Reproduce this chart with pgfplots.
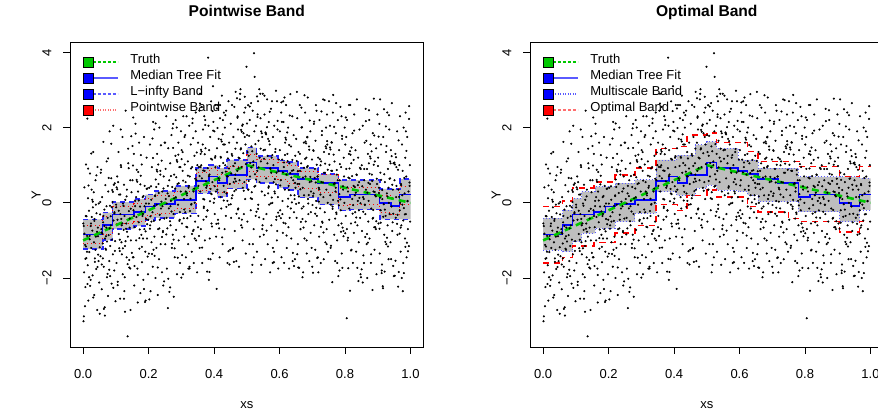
\documentclass[border=0pt]{standalone}
\usepackage{fontspec}
\setmainfont{Liberation Sans}
\usepackage{pgfplots}
\pgfplotsset{compat=1.18}
\usepgfplotslibrary{fillbetween}
\usepackage{pgfplotstable}

\definecolor{rgreen}{RGB}{0,200,0}
\definecolor{rgray}{RGB}{190,190,190}
\definecolor{lblue}{RGB}{90,90,255}
\definecolor{lred}{RGB}{255,110,110}

\pgfplotstableread{
x y
0.001 -3.15
0.002 -0.62
0.003 -1.85
0.004 0.41
0.006 -1.12
0.007 -2.24
0.008 -0.35
0.009 1.02
0.010 -1.47
0.012 -0.88
0.013 2.24
0.014 -1.66
0.015 0.12
0.016 -2.6
0.018 -0.21
0.019 -1.31
0.020 -0.97
0.021 0.78
0.023 -2.05
0.024 -0.55
0.025 -1.2
0.026 0.35
0.028 -0.74
0.029 -1.93
0.030 -0.12
0.031 1.35
0.033 -1.05
0.034 -2.45
0.035 -0.43
0.036 -1.57
0.038 0.6
0.039 -0.9
0.040 -1.76
0.041 -0.28
0.043 -2.85
0.044 0.95
0.045 -0.66
0.046 -1.38
0.048 -0.02
0.049 -2.12
0.051 -2.95
0.052 -0.31
0.053 -1.42
0.055 0.88
0.056 -0.79
0.057 -2.3
0.058 0.15
0.060 -1.08
0.061 -0.52
0.062 1.62
0.063 -1.7
0.065 -0.18
0.066 -2.78
0.067 -0.95
0.068 0.47
0.070 -1.25
0.071 -0.66
0.072 1.1
0.073 -1.98
0.075 -0.4
0.076 -2.48
0.077 0.3
0.078 -0.86
0.080 -1.55
0.081 1.9
0.082 -0.08
0.083 -1.15
0.085 -0.6
0.086 0.65
0.087 -2.15
0.088 -0.98
0.090 0.02
0.091 -1.37
0.092 2.05
0.093 -0.47
0.095 -1.8
0.096 -0.25
0.097 0.52
0.098 -1.02
0.099 -2.62
0.101 -0.12
0.102 -1.6
0.104 0.7
0.105 -0.45
0.106 -2.1
0.108 1.35
0.109 -0.83
0.110 0.22
0.112 -1.28
0.113 -2.55
0.114 -0.3
0.115 1.95
0.116 0.95
0.117 -1.05
0.118 -0.6
0.120 1.75
0.121 -1.9
0.122 -0.02
0.124 -0.72
0.125 0.48
0.126 -2.35
0.127 -1.98
0.128 -1.15
0.129 0.08
0.130 2.45
0.132 -0.55
0.133 -1.45
0.134 0.35
0.136 -3.55
0.137 -0.9
0.138 1.05
0.140 -0.22
0.141 -1.72
0.142 -0.66
0.144 0.6
0.145 -2.85
0.146 -1.0
0.148 0.28
0.149 -1.33
0.151 0.6
0.152 -1.45
0.153 2.27
0.154 -0.2
0.155 1.3
0.156 -2.2
0.158 -0.65
0.159 0.05
0.160 2.1
0.162 -1.0
0.163 -0.38
0.164 0.88
0.166 -1.75
0.167 -2.65
0.168 0.3
0.170 -0.52
0.171 1.6
0.172 -1.22
0.174 -0.1
0.175 -2.4
0.176 0.72
0.178 -0.85
0.179 1.02
0.180 -1.58
0.182 0.15
0.183 -0.3
0.184 -2.05
0.186 1.75
0.187 -0.7
0.188 0.45
0.190 -1.3
0.191 -2.6
0.192 -0.02
0.194 1.2
0.195 -0.95
0.196 0.38
0.198 -1.9
0.199 -0.45
0.201 -1.35
0.202 0.4
0.204 1.55
0.205 -0.6
0.206 -2.35
0.208 0.08
0.209 -1.05
0.210 0.95
0.212 -0.25
0.213 -1.7
0.214 2.15
0.216 -0.48
0.217 1.95
0.218 -0.9
0.220 0.2
0.221 -2.0
0.222 0.62
0.224 -1.2
0.225 -0.05
0.226 1.3
0.228 -2.45
0.229 -0.7
0.230 0.5
0.232 -1.5
0.233 2.0
0.234 -0.32
0.236 0.85
0.237 -1.1
0.238 -0.15
0.240 1.12
0.241 -1.85
0.242 0.3
0.244 -0.78
0.245 -2.2
0.246 0.7
0.248 -0.42
0.249 1.6
0.251 -1.1
0.252 0.9
0.254 2.3
0.255 -0.4
0.256 -1.75
0.258 0.25
0.259 -2.8
0.260 1.45
0.262 -0.15
0.263 0.6
0.266 -2.25
0.266 1.05
0.267 -0.6
0.268 0.05
0.270 1.8
0.271 -1.2
0.272 0.42
0.274 -0.85
0.275 2.1
0.276 -0.3
0.277 -2.5
0.278 0.75
0.280 -1.45
0.282 1.25
0.283 0.15
0.284 -0.72
0.286 2.0
0.287 -1.9
0.288 0.5
0.290 -0.05
0.291 1.6
0.292 -1.0
0.294 0.95
0.295 -0.45
0.296 -1.6
0.298 0.3
0.299 1.9
0.300 -1.99
0.301 1.4
0.302 -0.55
0.304 0.85
0.305 -1.9
0.306 2.3
0.308 0.1
0.309 -0.9
0.310 1.75
0.312 -0.25
0.313 0.55
0.314 -1.45
0.316 2.3
0.317 0.2
0.318 -0.65
0.320 1.1
0.321 -1.1
0.322 0.4
0.324 2.05
0.325 -1.75
0.326 0.7
0.328 -0.35
0.329 1.55
0.330 -0.05
0.332 -1.3
0.333 0.95
0.334 2.12
0.336 -0.75
0.337 0.3
0.338 -1.6
0.340 1.25
0.341 0.0
0.342 -0.5
0.344 1.9
0.345 -1.0
0.346 0.6
0.348 -1.85
0.349 1.0
0.351 1.6
0.352 -0.35
0.354 0.95
0.355 2.45
0.356 -1.2
0.357 2.9
0.358 0.3
0.359 1.3
0.360 -0.7
0.361 1.0
0.362 2.55
0.363 0.65
0.364 -1.6
0.366 1.95
0.367 0.1
0.368 -0.45
0.369 -0.1
0.370 2.3
0.371 0.85
0.372 -1.0
0.373 2.2
0.374 1.45
0.376 0.4
0.379 -1.83
0.380 -0.2
0.382 3.86
0.383 2.05
0.384 -2.05
0.385 1.4
0.386 0.75
0.387 -0.95
0.388 1.75
0.389 -1.5
0.390 0.25
0.391 2.7
0.392 -0.55
0.394 1.15
0.395 0.55
0.396 -1.35
0.397 3.1
0.398 2.15
0.399 0.0
0.401 1.9
0.402 -0.3
0.403 1.2
0.404 0.95
0.405 2.6
0.406 -0.9
0.408 -2.29
0.409 1.45
0.410 0.35
0.412 2.6
0.413 -0.55
0.414 1.7
0.416 0.6
0.417 -1.45
0.418 2.25
0.420 0.15
0.421 1.2
0.422 -0.15
0.424 2.85
0.425 0.8
0.426 -1.1
0.427 2.2
0.428 1.55
0.429 0.45
0.430 2.4
0.432 -0.7
0.433 2.0
0.434 1.0
0.436 -0.35
0.437 2.45
0.438 0.25
0.440 1.35
0.441 -1.6
0.442 0.7
0.444 2.7
0.445 -0.05
0.446 1.6
0.448 0.5
0.449 -1.25
0.451 2.1
0.452 -0.4
0.454 1.3
0.455 2.6
0.456 0.2
0.458 -1.2
0.459 1.75
0.460 0.55
0.462 2.55
0.463 -0.75
0.464 1.05
0.465 0.75
0.466 2.95
0.467 0.35
0.468 -1.55
0.470 1.6
0.471 0.85
0.472 2.3
0.473 1.95
0.474 -0.15
0.475 1.2
0.476 -1.7
0.478 0.6
0.479 2.75
0.481 3.02
0.482 1.45
0.483 -0.6
0.484 0.95
0.485 -0.45
0.486 2.05
0.487 -1.0
0.488 0.4
0.490 1.85
0.491 -0.3
0.492 2.4
0.494 2.82
0.495 0.1
0.496 1.55
0.497 -1.35
0.499 3.62
0.501 1.8
0.502 -0.5
0.504 2.6
0.505 0.35
0.506 1.25
0.508 -1.1
0.509 2.2
0.510 0.7
0.512 -0.2
0.513 2.65
0.514 1.5
0.515 -1.85
0.516 0.1
0.517 -1.65
0.518 2.45
0.520 1.0
0.521 -0.7
0.522 3.98
0.523 1.9
0.524 3.35
0.526 0.45
0.527 -0.35
0.528 2.05
0.530 1.3
0.531 -1.3
0.532 0.85
0.533 2.35
0.534 2.7
0.535 -0.05
0.536 1.65
0.538 3.02
0.539 0.55
0.540 -0.9
0.542 2.25
0.543 1.1
0.544 -1.65
0.546 0.3
0.547 1.75
0.548 -0.6
0.549 2.9
0.551 1.4
0.552 -0.85
0.554 2.35
0.555 0.2
0.556 -1.5
0.558 1.85
0.559 0.65
0.560 -0.3
0.562 2.75
0.563 1.05
0.564 -1.1
0.565 1.7
0.566 0.4
0.567 2.15
0.568 -0.05
0.570 1.55
0.571 -1.85
0.572 0.9
0.574 2.5
0.575 -0.6
0.576 1.2
0.577 2.7
0.578 0.0
0.579 -1.6
0.580 1.75
0.582 0.55
0.583 -1.3
0.584 2.05
0.586 0.25
0.587 1.35
0.589 2.98
0.590 -0.45
0.591 0.8
0.592 -1.0
0.593 -0.75
0.594 1.95
0.595 0.15
0.596 -1.75
0.598 1.15
0.599 -0.35
0.601 1.9
0.602 -0.2
0.604 0.6
0.605 2.4
0.606 -1.45
0.608 1.15
0.609 0.05
0.610 -0.8
0.611 2.7
0.612 2.15
0.613 0.95
0.614 -1.6
0.616 0.35
0.617 1.6
0.618 -0.55
0.620 2.6
0.621 0.75
0.622 -1.2
0.624 1.3
0.625 -0.1
0.626 2.0
0.627 -0.65
0.628 0.45
0.629 -1.75
0.630 1.05
0.631 -0.4
0.633 2.89
0.634 0.2
0.635 1.5
0.636 -0.95
0.638 0.85
0.639 2.3
0.640 -1.55
0.642 0.6
0.643 1.8
0.644 -0.25
0.646 0.1
0.647 -1.5
0.648 1.25
0.649 0.4
0.651 1.7
0.652 -0.4
0.653 2.95
0.654 2.25
0.655 0.5
0.656 -1.1
0.658 1.35
0.659 0.0
0.660 -1.73
0.662 2.6
0.663 0.85
0.664 -0.7
0.666 1.05
0.667 2.0
0.668 -0.15
0.670 -1.98
0.671 0.4
0.672 -1.85
0.673 -0.1
0.674 1.6
0.675 0.2
0.676 -0.95
0.678 2.4
0.679 0.7
0.680 -0.5
0.682 1.2
0.683 -1.35
0.684 0.95
0.685 1.75
0.686 2.8
0.687 0.1
0.688 -0.3
0.690 1.5
0.691 -1.55
0.692 0.55
0.694 1.9
0.695 -0.8
0.696 0.3
0.698 -1.2
0.699 1.15
0.700 -1.7
0.702 -1.86
0.703 1.4
0.704 0.25
0.705 2.1
0.706 -0.6
0.708 0.9
0.709 -1.25
0.710 1.65
0.711 2.6
0.712 0.05
0.713 2.45
0.714 -0.35
0.716 0.7
0.717 -1.45
0.718 1.2
0.720 0.4
0.721 -0.9
0.722 2.2
0.724 -0.15
0.725 1.0
0.726 -1.6
0.727 1.1
0.728 0.55
0.729 1.8
0.730 -0.5
0.733 2.75
0.734 0.15
0.735 -1.5
0.736 1.35
0.738 -0.25
0.739 0.8
0.740 -1.05
0.742 2.0
0.743 0.35
0.744 -0.7
0.745 2.35
0.746 1.55
0.747 0.0
0.748 -1.3
0.751 1.3
0.752 -0.45
0.754 2.05
0.755 0.2
0.756 -1.2
0.757 -0.05
0.758 0.85
0.761 -2.11
0.760 1.6
0.762 -0.1
0.763 2.4
0.764 2.87
0.766 0.5
0.767 -0.85
0.768 1.1
0.770 -1.55
0.771 0.3
0.772 1.85
0.773 2.65
0.774 -0.3
0.775 0.75
0.776 -1.0
0.778 2.2
0.779 0.05
0.780 -0.6
0.782 1.4
0.783 -1.8
0.784 0.6
0.786 2.55
0.787 -0.2
0.788 0.95
0.789 -0.55
0.790 -1.35
0.791 1.7
0.792 -1.73
0.794 0.35
0.795 -0.75
0.796 1.2
0.798 0.0
0.799 2.0
0.801 1.55
0.802 -0.35
0.804 0.9
0.805 -3.07
0.806 2.2
0.808 -1.0
0.809 0.3
0.810 -1.74
0.812 1.3
0.813 -0.15
0.814 0.65
0.815 -2.34
0.816 2.6
0.818 -0.55
0.819 1.05
0.820 -1.25
0.822 0.1
0.823 1.85
0.824 -1.6
0.826 0.45
0.827 -0.8
0.828 2.35
0.830 0.2
0.831 -0.25
0.832 1.4
0.834 -1.3
0.835 0.75
0.836 2.75
0.838 -0.6
0.839 0.05
0.840 1.2
0.842 -1.05
0.843 0.55
0.844 1.95
0.846 -0.4
0.847 -1.9
0.848 0.9
0.849 -1.98
0.851 1.0
0.852 -0.75
0.854 2.05
0.855 0.15
0.856 -1.4
0.858 -1.6
0.859 0.6
0.860 1.6
0.861 -0.05
0.862 -0.3
0.863 2.5
0.864 0.35
0.866 -1.1
0.867 0.9
0.868 -2.0
0.870 1.3
0.871 -0.5
0.872 0.05
0.873 1.05
0.874 2.2
0.875 -0.95
0.876 0.5
0.878 1.55
0.879 -1.6
0.880 -0.15
0.882 0.75
0.884 -2.32
0.885 1.85
0.886 -0.4
0.887 0.3
0.888 2.77
0.889 -0.65
0.890 -1.25
0.891 1.1
0.892 0.2
0.894 -0.7
0.895 1.45
0.896 -1.9
0.898 0.5
0.899 2.35
0.901 1.2
0.902 -0.55
0.904 0.4
0.905 2.1
0.906 -1.35
0.907 2.75
0.908 0.8
0.909 -0.2
0.910 1.55
0.912 -1.8
0.913 -1.64
0.914 0.1
0.916 -2.27
0.917 1.75
0.919 2.49
0.920 -0.85
0.921 -1.83
0.922 0.55
0.924 -0.35
0.925 1.35
0.926 -1.1
0.928 0.25
0.929 2.4
0.930 -0.6
0.931 0.9
0.933 -1.5
0.934 0.0
0.935 1.95
0.936 -0.3
0.938 0.65
0.939 -1.05
0.940 1.4
0.942 -0.1
0.943 2.65
0.944 -0.75
0.946 0.35
0.947 -1.68
0.948 1.05
0.949 -1.95
0.951 0.6
0.952 -1.94
0.954 1.3
0.955 -0.4
0.956 0.15
0.957 0.95
0.959 1.9
0.960 -0.85
0.962 -2.23
0.963 0.35
0.964 -1.84
0.966 1.0
0.967 -0.2
0.968 2.3
0.970 -1.3
0.971 0.5
0.972 -0.6
0.974 1.55
0.975 -0.05
0.976 0.85
0.978 -1.6
0.979 2.0
0.980 -1.87
0.982 0.25
0.983 -0.95
0.984 1.2
0.985 2.4
0.986 -0.3
0.987 0.7
0.988 -1.45
0.990 1.75
0.991 0.05
0.992 -0.7
0.995 -1.15
0.996 2.57
0.997 0.45
0.998 1.0
0.999 -0.5
0.0008 -0.55
0.0024 -3.02
0.0040 -0.82
0.0056 -2.75
0.0072 -1.49
0.0088 -1.16
0.0104 -0.36
0.0120 -1.30
0.0136 -2.16
0.0152 0.91
0.0168 0.46
0.0184 -1.98
0.0200 -0.88
0.0216 -2.21
0.0232 -0.62
0.0248 1.31
0.0264 -0.38
0.0280 0.08
0.0296 0.03
0.0312 -2.52
0.0328 0.28
0.0344 -0.48
0.0360 -1.48
0.0376 -1.25
0.0392 -0.05
0.0408 0.73
0.0424 -0.77
0.0440 -1.71
0.0456 -0.89
0.0472 -1.55
0.0508 -1.18
0.0524 0.02
0.0540 0.80
0.0556 -0.70
0.0572 -1.64
0.0588 -0.82
0.0604 -1.48
0.0620 -0.35
0.0636 -2.82
0.0652 -0.62
0.0668 -3.0
0.0684 -1.22
0.0700 -0.89
0.0716 -0.09
0.0732 -1.03
0.0748 -1.89
0.0764 1.18
0.0780 0.66
0.0796 -1.78
0.0812 -0.68
0.0828 -1.95
0.0844 -0.36
0.0860 1.57
0.0876 -0.12
0.0892 0.34
0.0908 0.29
0.0924 -2.26
0.0940 0.48
0.0956 -0.28
0.0972 -1.28
0.1008 -0.05
0.1024 0.41
0.1040 0.36
0.1056 -2.19
0.1072 0.55
0.1088 -0.21
0.1104 -1.21
0.1120 -0.98
0.1136 0.22
0.1152 1.00
0.1168 -0.43
0.1184 -1.37
0.1200 -0.55
0.1216 -1.21
0.1232 -0.08
0.1248 -2.55
0.1264 -0.35
0.1280 -2.90
0.1296 -1.02
0.1312 -0.69
0.1328 0.17
0.1344 -0.77
0.1360 -1.63
0.1376 1.44
0.1392 0.92
0.1408 -1.52
0.1424 -0.42
0.1440 -1.75
0.1456 -0.16
0.1472 1.77
0.1508 1.51
0.1524 0.99
0.1540 -1.45
0.1556 -0.35
0.1572 -1.68
0.1588 -0.09
0.1604 1.84
0.1620 0.15
0.1636 0.61
0.1652 0.56
0.1668 -1.92
0.1684 0.82
0.1700 0.06
0.1716 -0.94
0.1732 -0.71
0.1748 0.49
0.1764 1.27
0.1780 -0.23
0.1796 -1.17
0.1812 -0.35
0.1828 -0.95
0.1844 0.18
0.1860 -2.29
0.1876 -0.09
0.1892 -2.64
0.1908 -0.76
0.1924 -0.43
0.1940 0.37
0.1956 -0.57
0.1972 -1.43
0.2008 -0.02
0.2024 -2.57
0.2040 -0.69
0.2056 -0.36
0.2072 0.44
0.2088 -0.50
0.2104 -1.36
0.2120 1.71
0.2136 1.19
0.2152 -1.25
0.2168 -0.08
0.2184 -1.41
0.2200 0.18
0.2216 2.11
0.2232 0.42
0.2248 0.88
0.2264 0.83
0.2280 -1.72
0.2296 1.02
0.2312 0.26
0.2328 -0.68
0.2344 -0.45
0.2360 0.75
0.2376 1.53
0.2392 0.03
0.2408 -0.91
0.2424 -0.09
0.2440 -0.75
0.2456 0.38
0.2472 -2.09
0.2508 1.60
0.2524 0.10
0.2540 -0.84
0.2556 -0.02
0.2572 -0.68
0.2588 0.45
0.2604 -2.02
0.2620 0.18
0.2636 -2.37
0.2652 -0.49
0.2668 -0.09
0.2684 0.71
0.2700 -0.23
0.2716 -1.09
0.2732 1.98
0.2748 1.46
0.2764 -0.98
0.2780 0.12
0.2796 -1.21
0.2812 0.38
0.2828 2.2
0.2844 0.68
0.2860 1.14
0.2876 1.09
0.2892 -1.46
0.2908 1.28
0.2924 0.52
0.2940 -0.48
0.2956 -0.25
0.2972 0.95
0.3008 1.16
0.3024 -1.39
0.3040 1.35
0.3056 0.59
0.3072 -0.41
0.3088 -0.18
0.3104 1.02
0.3120 1.80
0.3136 0.30
0.3152 -0.64
0.3168 0.25
0.3184 -0.41
0.3200 0.72
0.3216 -1.75
0.3232 0.45
0.3248 -1.7
0.3264 -0.22
0.3280 0.11
0.3296 0.91
0.3312 -0.03
0.3328 -0.83
0.3344 2.24
0.3360 1.72
0.3376 -0.72
0.3392 0.38
0.3408 -0.95
0.3424 0.64
0.3440 2.4
0.3456 0.88
0.3472 1.34
0.3508 -0.65
0.3524 0.45
0.3540 -0.88
0.3556 0.71
0.3572 2.64
0.3588 0.95
0.3604 1.41
0.3620 1.36
0.3636 -1.19
0.3652 1.55
0.3668 0.86
0.3684 -0.14
0.3700 0.09
0.3716 1.29
0.3732 2.07
0.3748 0.57
0.3764 -0.37
0.3780 0.45
0.3796 -0.21
0.3812 0.92
0.3828 -1.49
0.3844 0.71
0.3860 -1.84
0.3876 0.04
0.3892 0.37
0.3908 1.17
0.3924 0.23
0.3940 -0.63
0.3956 2.44
0.3972 1.92
0.4008 0.11
0.4024 0.44
0.4040 1.24
0.4056 0.30
0.4072 -0.56
0.4088 2.51
0.4104 1.99
0.4120 -0.45
0.4136 0.65
0.4152 -0.68
0.4168 0.98
0.4184 2.6
0.4200 1.22
0.4216 1.68
0.4232 1.63
0.4248 -0.92
0.4264 1.82
0.4280 1.06
0.4296 0.06
0.4312 0.29
0.4328 1.55
0.4344 2.33
0.4360 0.83
0.4376 -0.11
0.4392 0.71
0.4408 0.05
0.4424 1.18
0.4440 -1.29
0.4456 0.91
0.4472 -1.64
0.4508 -0.04
0.4524 0.78
0.4540 0.12
0.4556 1.25
0.4572 -1.22
0.4588 0.98
0.4604 -1.57
0.4620 0.31
0.4636 0.64
0.4652 1.44
0.4668 0.57
0.4684 -0.29
0.4700 2.78
0.4716 2.26
0.4732 -0.18
0.4748 0.92
0.4764 -0.41
0.4780 1.18
0.4796 2.9
0.4812 1.42
0.4828 1.94
0.4844 1.89
0.4860 -0.66
0.4876 2.08
0.4892 1.32
0.4908 0.32
0.4924 0.55
0.4940 1.75
0.4956 2.53
0.4972 1.03
0.5008 2.11
0.5024 1.35
0.5040 0.35
0.5056 0.58
0.5072 1.78
0.5088 2.56
0.5104 1.06
0.5120 0.12
0.5136 0.94
0.5152 0.28
0.5168 1.37
0.5184 -1.10
0.5200 1.10
0.5216 -1.45
0.5232 0.43
0.5248 0.76
0.5264 1.56
0.5280 0.62
0.5296 -0.24
0.5312 2.83
0.5328 2.28
0.5344 -0.16
0.5360 0.94
0.5376 -0.39
0.5392 1.20
0.5408 2.9
0.5424 1.44
0.5440 1.90
0.5456 1.85
0.5472 -0.70
0.5508 -0.43
0.5524 1.17
0.5540 2.85
0.5556 1.41
0.5572 1.87
0.5588 1.82
0.5604 -0.74
0.5620 2.01
0.5636 1.25
0.5652 0.25
0.5668 0.44
0.5684 1.64
0.5700 2.42
0.5716 0.92
0.5732 -0.02
0.5748 0.80
0.5764 0.14
0.5780 1.27
0.5796 -1.20
0.5812 1.00
0.5828 -1.58
0.5844 0.30
0.5860 0.63
0.5876 1.43
0.5892 0.49
0.5908 -0.37
0.5924 2.70
0.5940 2.18
0.5956 -0.26
0.5972 0.84
0.6008 1.40
0.6024 0.46
0.6040 -0.41
0.6056 2.67
0.6072 2.15
0.6088 -0.30
0.6104 0.81
0.6120 -0.53
0.6136 1.07
0.6152 2.8
0.6168 1.27
0.6184 1.73
0.6200 1.68
0.6216 -0.87
0.6232 1.87
0.6248 1.11
0.6264 0.11
0.6280 0.34
0.6296 1.54
0.6312 2.32
0.6328 0.79
0.6344 -0.15
0.6360 0.67
0.6376 0.01
0.6392 1.14
0.6408 -1.33
0.6424 0.87
0.6440 -1.68
0.6456 0.20
0.6472 0.53
0.6508 -0.03
0.6524 1.11
0.6540 -1.37
0.6556 0.84
0.6572 -1.72
0.6588 0.17
0.6604 0.50
0.6620 1.30
0.6636 0.36
0.6652 -0.51
0.6668 2.53
0.6684 2.01
0.6700 -0.43
0.6716 0.67
0.6732 -0.66
0.6748 0.93
0.6764 2.86
0.6780 1.17
0.6796 1.63
0.6812 1.58
0.6828 -1.00
0.6844 1.74
0.6860 0.98
0.6876 -0.02
0.6892 0.21
0.6908 1.41
0.6924 2.19
0.6940 0.69
0.6956 -0.25
0.6972 0.57
0.7008 -0.06
0.7024 0.18
0.7040 1.38
0.7056 2.16
0.7072 0.66
0.7088 -0.29
0.7104 0.54
0.7120 -0.13
0.7136 1.01
0.7152 -1.47
0.7168 0.70
0.7184 -1.85
0.7200 0.03
0.7216 0.36
0.7232 1.16
0.7248 0.22
0.7264 -0.64
0.7280 2.43
0.7296 1.91
0.7312 -0.53
0.7328 0.54
0.7344 -0.79
0.7360 0.80
0.7376 2.73
0.7392 1.04
0.7408 1.50
0.7424 1.45
0.7440 -1.10
0.7456 1.64
0.7472 0.88
0.7508 2.70
0.7524 1.01
0.7540 1.47
0.7556 1.42
0.7572 -1.14
0.7588 1.61
0.7604 0.85
0.7620 -0.16
0.7636 0.08
0.7652 1.28
0.7668 2.02
0.7684 0.52
0.7700 -0.42
0.7716 0.40
0.7732 -0.26
0.7748 0.87
0.7764 -1.60
0.7780 0.60
0.7796 -1.95
0.7812 -0.07
0.7828 0.23
0.7844 1.03
0.7860 0.09
0.7876 -0.77
0.7892 2.30
0.7908 1.78
0.7924 -0.66
0.7940 0.44
0.7956 -0.89
0.7972 0.70
0.8008 -0.81
0.8024 2.27
0.8040 1.75
0.8056 -0.70
0.8072 0.41
0.8088 -0.93
0.8104 0.67
0.8120 2.60
0.8136 0.91
0.8152 1.37
0.8168 1.28
0.8184 -1.27
0.8200 1.47
0.8216 0.71
0.8232 -0.29
0.8248 -0.06
0.8264 1.14
0.8280 1.92
0.8296 0.42
0.8312 -0.52
0.8328 0.27
0.8344 -0.39
0.8360 0.74
0.8376 -1.73
0.8392 0.47
0.8408 -2.08
0.8424 -0.20
0.8440 0.13
0.8456 0.93
0.8472 -0.01
0.8508 -1.77
0.8524 0.44
0.8540 -2.12
0.8556 -0.24
0.8572 0.10
0.8588 0.90
0.8604 -0.05
0.8620 -0.91
0.8636 2.17
0.8652 1.65
0.8668 -0.83
0.8684 0.27
0.8700 -1.06
0.8716 0.53
0.8732 2.46
0.8748 0.77
0.8764 1.23
0.8780 1.18
0.8796 -1.37
0.8812 1.37
0.8828 0.58
0.8844 -0.42
0.8860 -0.19
0.8876 1.01
0.8892 1.79
0.8908 0.29
0.8924 -0.65
0.8940 0.17
0.8956 -0.49
0.8972 0.64
0.9008 0.98
0.9024 1.76
0.9040 0.26
0.9056 -0.69
0.9072 0.14
0.9088 -0.53
0.9104 0.61
0.9120 -1.87
0.9136 0.34
0.9152 -2.22
0.9168 -0.37
0.9184 -0.04
0.9200 0.76
0.9216 -0.18
0.9232 -1.04
0.9248 2.03
0.9264 1.51
0.9280 -0.93
0.9296 0.17
0.9312 -1.16
0.9328 0.40
0.9344 2.33
0.9360 0.64
0.9376 1.10
0.9392 1.05
0.9408 -1.50
0.9424 1.24
0.9440 0.48
0.9456 -0.52
0.9472 -0.29
0.9508 1.07
0.9524 1.02
0.9540 -1.54
0.9556 1.21
0.9572 0.45
0.9588 -0.56
0.9604 -0.32
0.9620 0.88
0.9636 1.66
0.9652 0.16
0.9668 -0.82
0.9684 0.00
0.9700 -0.66
0.9716 0.47
0.9732 -2.00
0.9748 0.20
0.9764 -2.35
0.9780 -0.47
0.9796 -0.14
0.9812 0.66
0.9828 -0.31
0.9844 -1.17
0.9860 1.90
0.9876 1.38
0.9892 -1.06
0.9908 0.04
0.9924 -1.29
0.9940 0.30
0.9956 2.23
0.9972 0.54
}\pts

\pgfplotstableread{
x med up lo pu pl
0.000 -0.84 -0.44 -1.23 -0.60 -1.08
0.060 -0.59 -0.26 -0.99 -0.36 -0.84
0.090 -0.31 0.02 -0.70 -0.09 -0.56
0.155 -0.25 0.10 -0.62 -0.02 -0.50
0.190 -0.10 0.22 -0.45 0.12 -0.34
0.220 -0.03 0.32 -0.40 0.20 -0.28
0.280 0.08 0.45 -0.28 0.30 -0.16
0.345 0.58 0.93 0.25 0.80 0.34
0.385 0.70 1.00 0.30 0.90 0.46
0.410 0.52 0.92 0.16 0.76 0.28
0.440 0.74 1.14 0.38 0.96 0.50
0.500 1.07 1.47 0.62 1.28 0.84
0.530 0.93 1.25 0.52 1.14 0.70
0.595 0.85 1.12 0.40 1.06 0.62
0.625 0.76 1.08 0.34 0.98 0.52
0.657 0.63 0.92 0.14 0.84 0.38
0.718 0.53 0.76 -0.05 0.74 0.28
0.780 0.16 0.60 -0.20 0.38 -0.08
0.815 0.22 0.60 -0.18 0.42 -0.04
0.906 -0.01 0.37 -0.44 0.20 -0.26
0.940 -0.08 0.37 -0.44 0.14 -0.32
0.967 0.22 0.63 -0.44 0.44 -0.04
1.000 0.22 0.63 -0.44 0.44 -0.04
}\leftband

\pgfplotstableread{
x med up lo ou ol
0.000 -0.84 -0.41 -1.26 -0.10 -1.60
0.060 -0.59 -0.19 -1.30 0.05 -1.45
0.090 -0.31 0.12 -1.03 0.40 -1.15
0.118 -0.31 0.30 -0.81 0.40 -1.15
0.155 -0.25 0.30 -0.81 0.55 -1.05
0.159 -0.25 0.43 -0.68 0.55 -1.05
0.190 -0.10 0.43 -0.68 0.55 -1.05
0.220 -0.03 0.52 -0.50 0.74 -0.80
0.280 0.08 0.61 -0.28 0.93 -0.60
0.345 0.58 1.14 0.30 1.45 -0.05
0.385 0.70 1.14 0.30 1.45 -0.05
0.408 0.70 1.27 0.20 1.45 -0.05
0.410 0.52 1.27 0.20 1.50 -0.20
0.440 0.74 1.27 0.20 1.80 0.20
0.464 0.74 1.54 0.39 1.80 0.20
0.500 1.07 1.63 0.47 1.85 0.34
0.530 0.93 1.45 0.34 1.60 0.16
0.595 0.85 1.14 0.30 1.60 0.16
0.625 0.76 1.14 0.21 1.36 -0.10
0.657 0.63 0.92 0.03 1.10 -0.24
0.718 0.53 0.92 0.03 1.10 -0.24
0.750 0.53 0.92 0.03 1.10 -0.42
0.780 0.16 0.69 -0.24 1.10 -0.42
0.785 0.16 0.69 -0.24 0.96 -0.50
0.815 0.22 0.69 -0.24 0.96 -0.50
0.906 -0.01 0.69 -0.50 0.70 -0.77
0.940 -0.08 0.69 -0.50 0.70 -0.77
0.967 0.22 0.65 -0.19 0.96 -0.50
1.000 0.22 0.65 -0.19 0.96 -0.50
}\rightband

\pgfplotsset{
  rstyle/.style={
    scale only axis, width=353.6pt, height=304.3pt,
    xmin=-0.04, xmax=1.04, ymin=-3.835, ymax=4.258,
    axis line style={line width=0.8pt, black},
    tick align=outside, major tick length=7pt,
    xtick pos=bottom, ytick pos=left,
    tick style={line width=0.8pt, black},
    xtick={0,0.2,0.4,0.6,0.8,1},
    xticklabels={0.0,0.2,0.4,0.6,0.8,1.0},
    ytick={-2,0,2,4}, yticklabels={−2,0,2,4},
    ticklabel style={font=\fontsize{13}{15}\selectfont},
    xticklabel style={yshift=-11.5pt},
    yticklabel style={xshift=-8pt, rotate=90, anchor=south},
    xlabel={xs}, ylabel={Y},
    label style={font=\fontsize{13}{15}\selectfont},
    xlabel style={at={(axis description cs:0.5,-0.2005)}, anchor=base},
    ylabel style={at={(axis description cs:-0.0833,0.5)}, anchor=base},
    title style={font=\bfseries\fontsize{15.6}{18}\selectfont, at={(axis description cs:0.5,1.065)}, anchor=base},
    legend cell align=left,
    legend style={draw=none, fill=none, at={(axis description cs:0,1)}, anchor=north west,
      xshift=12.3pt, yshift=-11pt, inner sep=0pt, row sep=0pt, column sep=12pt,
      font=\fontsize{13}{15}\selectfont,
      nodes={inner sep=0pt, text height=10pt, text depth=6pt}},
  },
  pts/.style={only marks, mark=*, mark size=0.85pt, black, forget plot},
}

\begin{document}
\begin{tikzpicture}
\begin{axis}[rstyle, at={(70pt,68pt)}, anchor=south west, title={Pointwise Band}]
  \addplot[pts] table[x=x, y=y] {\pts};
  \addplot[const plot, draw=none, name path=LU, forget plot] table[x=x, y=up] {\leftband};
  \addplot[const plot, draw=none, name path=LL, forget plot] table[x=x, y=lo] {\leftband};
  \addplot[rgray, forget plot] fill between[of=LU and LL];
  \addplot[const plot, blue!85, line width=1.6pt, dash pattern=on 5pt off 4pt, forget plot] table[x=x, y=up] {\leftband};
  \addplot[const plot, blue!85, line width=1.6pt, dash pattern=on 5pt off 4pt, forget plot] table[x=x, y=lo] {\leftband};
  \addplot[const plot, red, line width=1pt, dash pattern=on 1pt off 3pt, forget plot] table[x=x, y=pu] {\leftband};
  \addplot[const plot, red, line width=1pt, dash pattern=on 1pt off 3pt, forget plot] table[x=x, y=pl] {\leftband};
  \addplot[const plot, blue, line width=1.5pt, forget plot] table[x=x, y=med] {\leftband};
  \addplot[rgreen, line width=2.6pt, dash pattern=on 7pt off 5pt, forget plot] coordinates {(0,-1) (0.5,1) (1,0)};
  \addlegendimage{legend image code/.code={
    \draw[rgreen, line width=1.3pt, dash pattern=on 3pt off 2pt] (5pt,0pt) -- (30pt,0pt);
    \draw[black, line width=0.5pt, fill=rgreen] (-5pt,-5pt) rectangle (5pt,5pt);}}
  \addlegendentry{Truth}
  \addlegendimage{legend image code/.code={
    \draw[lblue, line width=1.3pt] (5pt,0pt) -- (30pt,0pt);
    \draw[black, line width=0.5pt, fill=blue] (-5pt,-5pt) rectangle (5pt,5pt);}}
  \addlegendentry{Median Tree Fit}
  \addlegendimage{legend image code/.code={
    \draw[lblue, line width=1.3pt, dash pattern=on 3pt off 2pt] (5pt,0pt) -- (30pt,0pt);
    \draw[black, line width=0.5pt, fill=blue] (-5pt,-5pt) rectangle (5pt,5pt);}}
  \addlegendentry{L−infty Band}
  \addlegendimage{legend image code/.code={
    \draw[lred, line width=1.3pt, dash pattern=on 1pt off 1.5pt] (5pt,0pt) -- (30pt,0pt);
    \draw[black, line width=0.5pt, fill=red] (-5pt,-5pt) rectangle (5pt,5pt);}}
  \addlegendentry{Pointwise Band}
\end{axis}
\begin{axis}[rstyle, at={(530pt,68pt)}, anchor=south west, title={Optimal Band}]
  \addplot[pts] table[x=x, y=y] {\pts};
  \addplot[const plot, draw=none, name path=RU, forget plot] table[x=x, y=up] {\rightband};
  \addplot[const plot, draw=none, name path=RL, forget plot] table[x=x, y=lo] {\rightband};
  \addplot[rgray, forget plot] fill between[of=RU and RL];
  \addplot[const plot, lblue, line width=0.8pt, dash pattern=on 1pt off 2pt, forget plot] table[x=x, y=up] {\rightband};
  \addplot[const plot, lblue, line width=0.8pt, dash pattern=on 1pt off 2pt, forget plot] table[x=x, y=lo] {\rightband};
  \addplot[const plot, red, line width=1.5pt, dash pattern=on 6pt off 5pt, forget plot] table[x=x, y=ou] {\rightband};
  \addplot[const plot, red, line width=1.5pt, dash pattern=on 6pt off 5pt, forget plot] table[x=x, y=ol] {\rightband};
  \addplot[const plot, blue, line width=1.5pt, forget plot] table[x=x, y=med] {\rightband};
  \addplot[rgreen, line width=2.6pt, dash pattern=on 7pt off 5pt, forget plot] coordinates {(0,-1) (0.5,1) (1,0)};
  \addlegendimage{legend image code/.code={
    \draw[rgreen, line width=1.3pt, dash pattern=on 3pt off 2pt] (5pt,0pt) -- (30pt,0pt);
    \draw[black, line width=0.5pt, fill=rgreen] (-5pt,-5pt) rectangle (5pt,5pt);}}
  \addlegendentry{Truth}
  \addlegendimage{legend image code/.code={
    \draw[lblue, line width=1.3pt] (5pt,0pt) -- (30pt,0pt);
    \draw[black, line width=0.5pt, fill=blue] (-5pt,-5pt) rectangle (5pt,5pt);}}
  \addlegendentry{Median Tree Fit}
  \addlegendimage{legend image code/.code={
    \draw[lblue, line width=1.3pt, dash pattern=on 1pt off 1.5pt] (5pt,0pt) -- (30pt,0pt);
    \draw[black, line width=0.5pt, fill=blue] (-5pt,-5pt) rectangle (5pt,5pt);}}
  \addlegendentry{Multiscale Band}
  \addlegendimage{legend image code/.code={
    \draw[lred, line width=1.3pt, dash pattern=on 3pt off 2pt] (5pt,0pt) -- (30pt,0pt);
    \draw[black, line width=0.5pt, fill=red] (-5pt,-5pt) rectangle (5pt,5pt);}}
  \addlegendentry{Optimal Band}
\end{axis}
\pgfresetboundingbox
\path[use as bounding box] (0pt,0pt) rectangle (878pt,415pt);
\end{tikzpicture}
\end{document}
